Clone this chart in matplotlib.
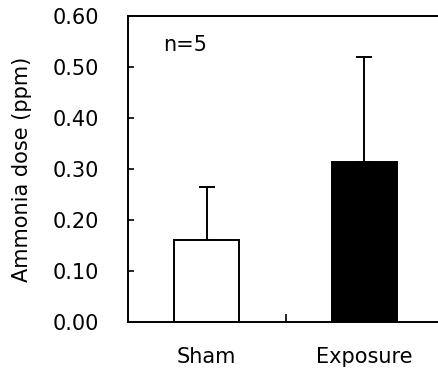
"""Ammonia dose bar chart: Sham vs Exposure, mean with upper error bars."""

import matplotlib

matplotlib.use("Agg")

import matplotlib.pyplot as plt
from matplotlib.ticker import FixedLocator

plt.rcParams["font.family"] = ["DejaVu Sans"]

groups = ["Sham", "Exposure"]
means = [0.161, 0.314]
errors = [0.104, 0.206]
bar_colors = ["white", "black"]
y_ticks = [0.0, 0.1, 0.2, 0.3, 0.4, 0.5, 0.6]
y_label = "Ammonia dose (ppm)"
note = "n=5"


def main() -> None:
    fig = plt.figure(figsize=(4.39, 3.71), dpi=100)
    ax = fig.add_axes([0.2916, 0.132, 0.7175, 0.8248])

    x = list(range(len(groups)))
    ax.bar(x, means, width=0.41, color=bar_colors, edgecolor="black",
           linewidth=1.4, zorder=2)
    ax.errorbar(x, means, yerr=[[0, 0], errors], fmt="none", ecolor="black",
                elinewidth=1.4, capsize=5.5, capthick=1.4, zorder=1)

    ax.set_xlim(-0.5, 1.5)
    ax.set_ylim(0, 0.6)
    ax.set_yticks(y_ticks)
    ax.set_yticklabels([f"{v:.2f}" for v in y_ticks], fontsize=15)
    ax.set_xticks(x)
    ax.set_xticklabels(groups, fontsize=15)
    ax.xaxis.set_minor_locator(FixedLocator([0.5]))

    ax.tick_params(axis="y", direction="in", length=4, width=1.2, pad=21)
    ax.tick_params(axis="x", which="major", length=0, pad=18)
    ax.tick_params(axis="x", which="minor", direction="in", length=6, width=1.2)

    ax.set_ylabel(y_label, fontsize=15)
    ax.yaxis.set_label_coords(-0.305, 0.5)

    for side in ["left", "bottom", "top"]:
        ax.spines[side].set_linewidth(1.4)
    ax.spines["right"].set_visible(False)

    ax.text(-0.28, 0.543, note, fontsize=15, va="center", ha="left")

    fig.savefig("out.png", dpi=100)
    plt.close(fig)


if __name__ == "__main__":
    main()
